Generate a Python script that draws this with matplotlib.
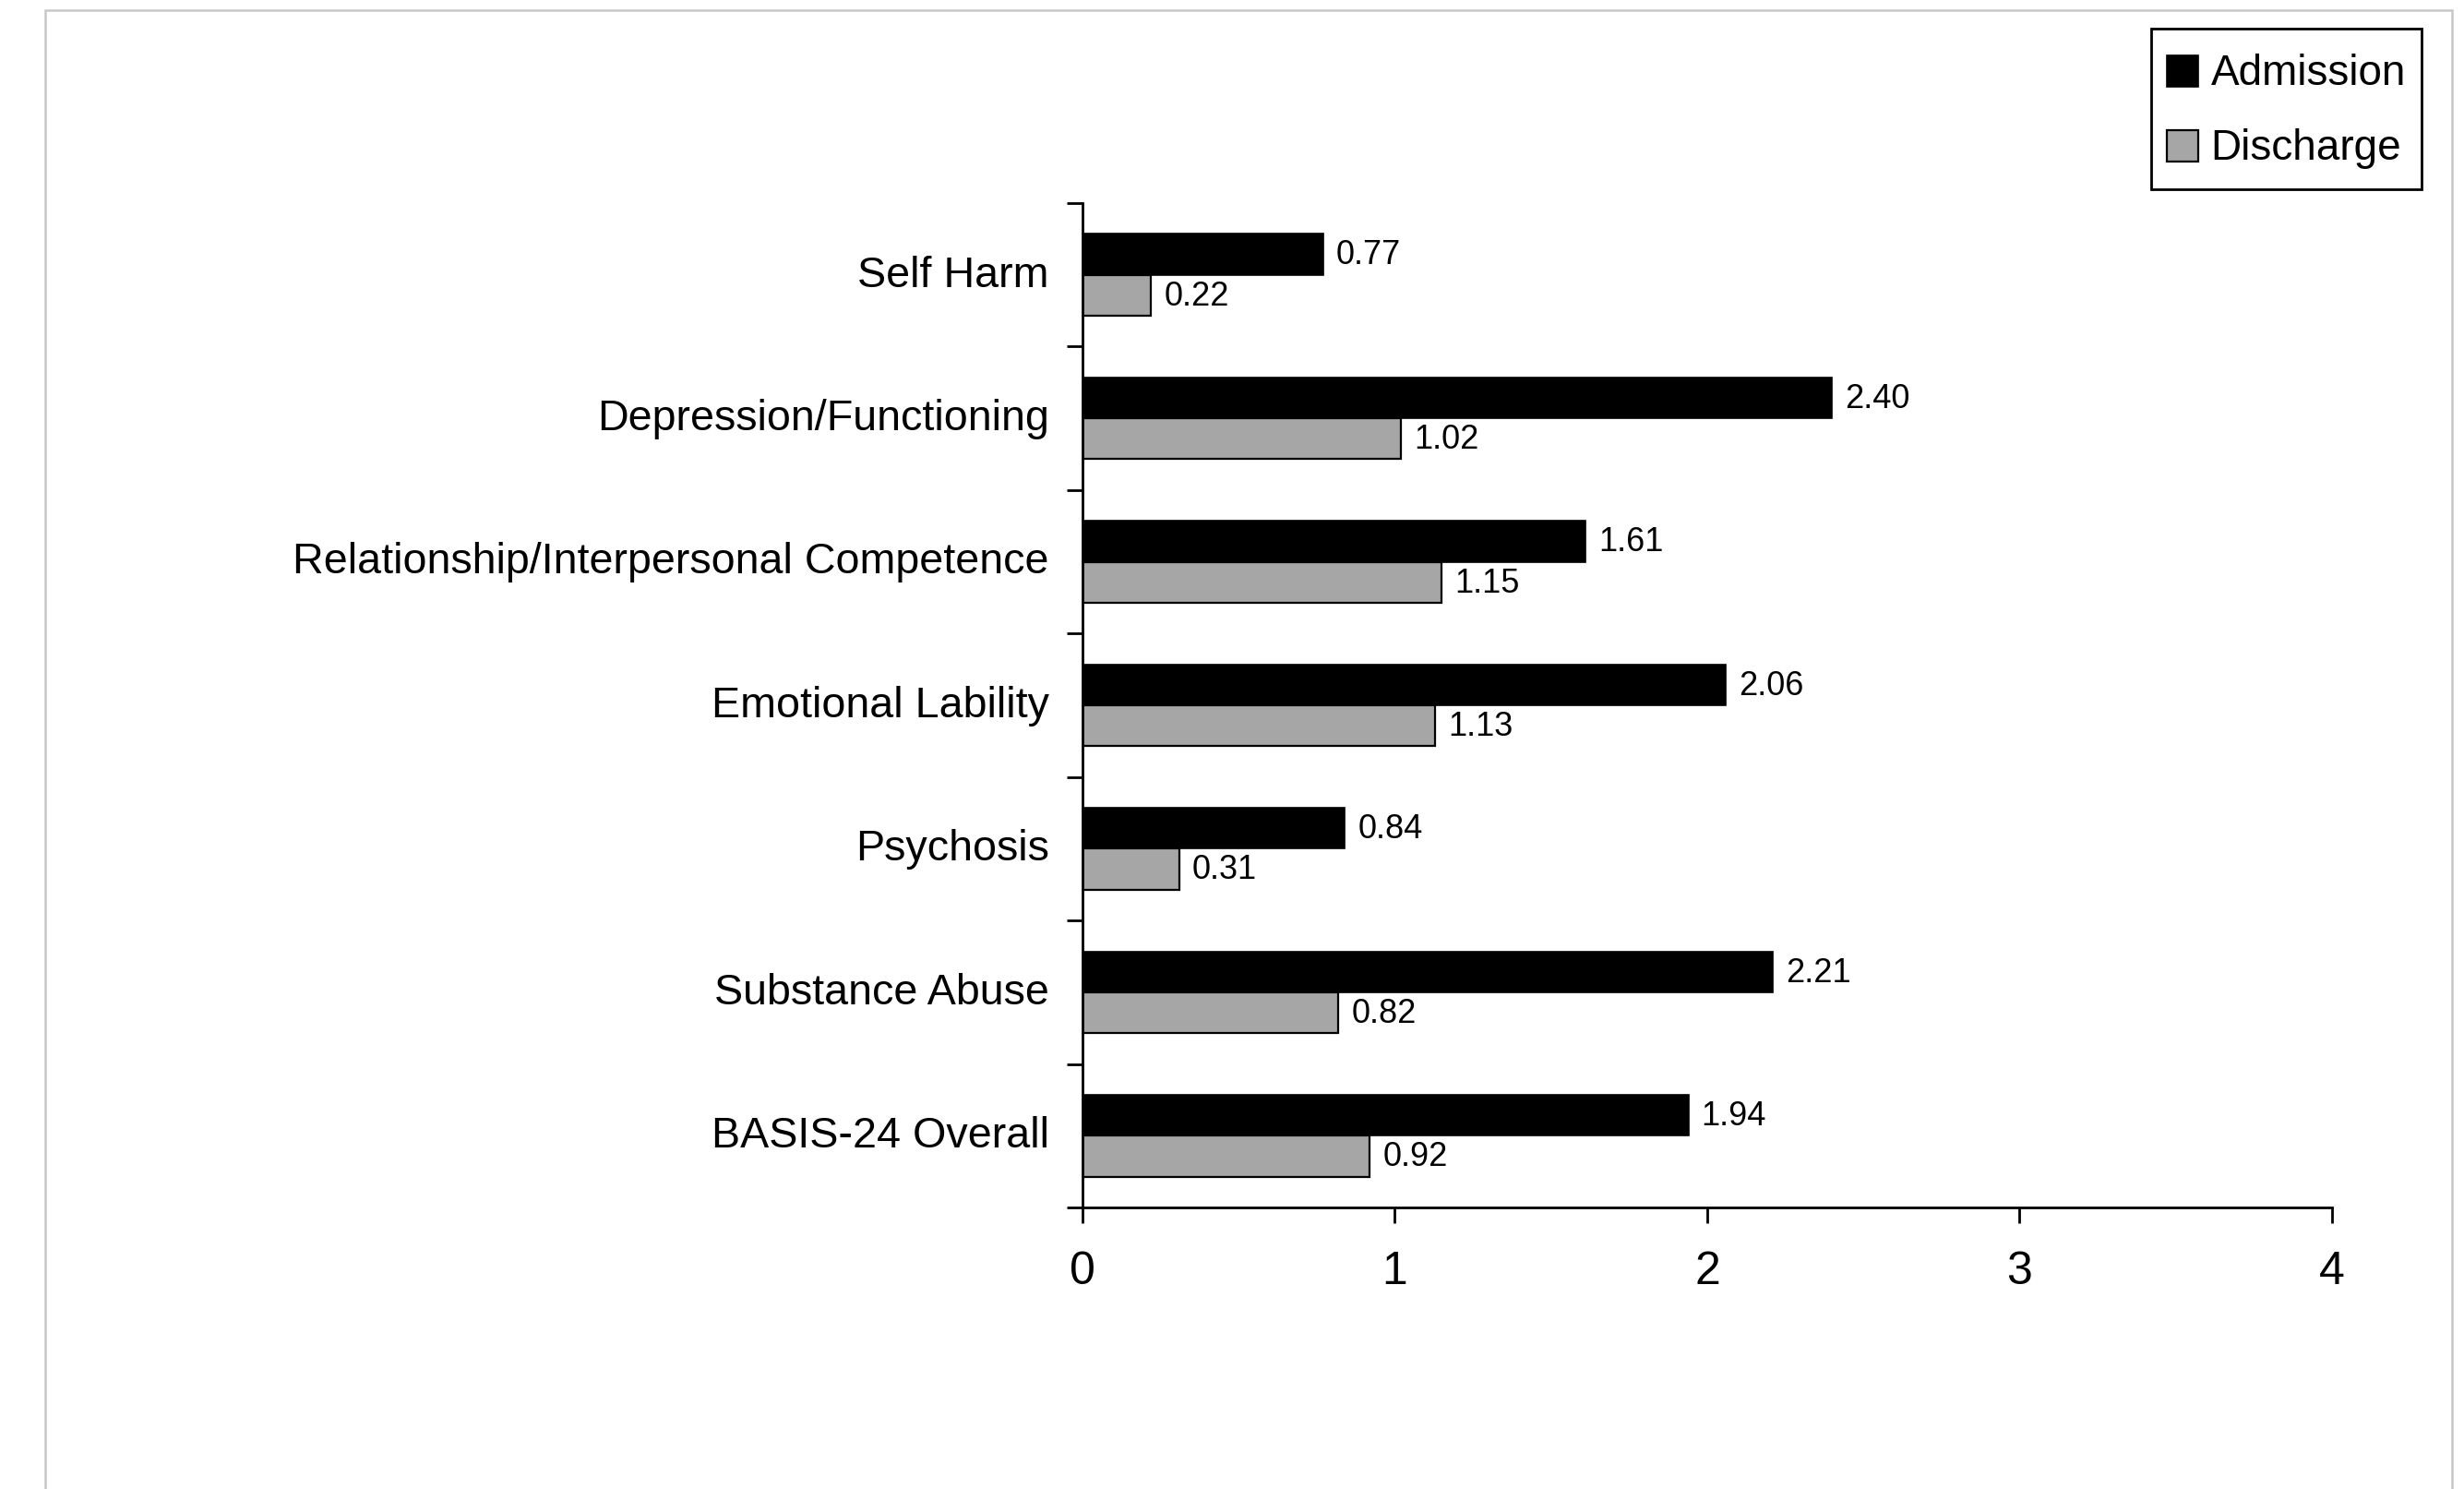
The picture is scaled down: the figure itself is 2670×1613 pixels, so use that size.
import numpy as np
import matplotlib.pyplot as plt
import matplotlib as mpl
from matplotlib.patches import Rectangle
from matplotlib.container import BarContainer
from matplotlib.legend_handler import HandlerPatch, update_from_first_child
from matplotlib.transforms import ScaledTranslation

mpl.rcParams.update(
    {
        "font.family": ["Liberation Sans", "DejaVu Sans"],
        "axes.linewidth": 1.0,
    }
)

# ---------------------------------------------------------------------------
# Data (top to bottom as in the figure)
# ---------------------------------------------------------------------------
categories = [
    "Self Harm",
    "Depression/Functioning",
    "Relationship/Interpersonal Competence",
    "Emotional Lability",
    "Psychosis",
    "Substance Abuse",
    "BASIS-24 Overall",
]
admission = [0.77, 2.40, 1.61, 2.06, 0.84, 2.21, 1.94]
discharge = [0.22, 1.02, 1.15, 1.13, 0.31, 0.82, 0.92]
x_ticks = [0, 1, 2, 3, 4]

# ---------------------------------------------------------------------------
# Plot
# ---------------------------------------------------------------------------
fig = plt.figure(figsize=(13.35, 8.065), dpi=200)
ax = fig.add_axes([0.4393, 0.1891, 0.9464 - 0.4393, 0.8636 - 0.1891])

n = len(categories)
y = np.arange(n)[::-1]
h = 0.285

b1 = ax.barh(y + h / 2, admission, height=h, color="black", edgecolor="black",
             lw=0.6, label="Admission")
b2 = ax.barh(y - h / 2, discharge, height=h, color="#a6a6a6", edgecolor="black",
             lw=0.8, label="Discharge")

for bars, vals in ((b1, admission), (b2, discharge)):
    for bar, v in zip(bars, vals):
        ax.annotate(f"{v:.2f}", (v, bar.get_y() + bar.get_height() / 2),
                    xytext=(5, -0.5), textcoords="offset points",
                    ha="left", va="center", fontsize=13)

ax.set_xlim(0, 4)
ax.set_ylim(-0.5, n - 0.5)
ax.set_xticks(x_ticks)
ax.set_xticklabels([str(t) for t in x_ticks], fontsize=18)
ax.tick_params(axis="x", direction="out", length=6, width=1.0, pad=11)

# category boundaries carry the tick marks, labels sit at the centres
ax.set_yticks(np.arange(-0.5, n, 1.0))
ax.set_yticklabels([])
ax.tick_params(axis="y", which="major", direction="out", length=6, width=1.0)
ax.set_yticks(y, minor=True)
ax.set_yticklabels(categories, minor=True, fontsize=16.8)
ax.tick_params(axis="y", which="minor", length=0, pad=13)
shift = ScaledTranslation(0, 1.5 / 72, fig.dpi_scale_trans)
for lab in ax.get_yticklabels(minor=True):
    lab.set_transform(lab.get_transform() + shift)

ax.spines["top"].set_visible(False)
ax.spines["right"].set_visible(False)


def square_patch(legend, orig_handle, xdescent, ydescent, width, height, fontsize):
    # small square swatch centred in a taller legend row
    s = 0.74 * fontsize
    return Rectangle((-xdescent, -ydescent + (height - s) / 2), s, s)


leg = ax.legend(loc="upper right", bbox_to_anchor=(0.9828, 0.9808),
                bbox_transform=fig.transFigure, borderaxespad=0,
                fontsize=16.5, fancybox=False, edgecolor="black",
                framealpha=1, handlelength=0.74, handleheight=1.6,
                handletextpad=0.3, borderpad=0.37, labelspacing=0.48,
                handler_map={BarContainer: HandlerPatch(
                    patch_func=square_patch, update_func=update_from_first_child)})
leg.get_frame().set_linewidth(1.0)

# light grey frame around the chart area
fig.patches.append(Rectangle((49 / 2670, -0.02), (2657 - 49) / 2670,
                             1 - 11 / 1613 + 0.02, transform=fig.transFigure,
                             fill=False, edgecolor="#c8c8c8", lw=0.9))

fig.savefig("out.png", dpi=200)
plt.close(fig)
